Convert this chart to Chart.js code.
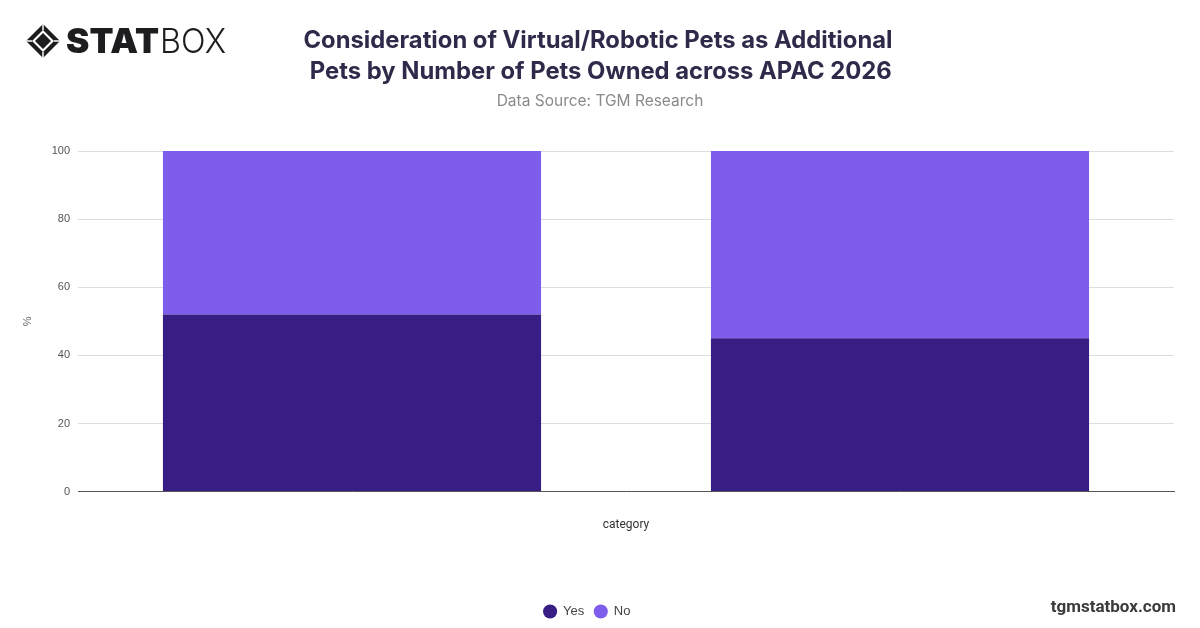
<!DOCTYPE html>
<html>
<head>
<meta charset="utf-8">
<script src="https://cdn.jsdelivr.net/npm/chart.js@4.4.1/dist/chart.umd.min.js"></script>
<style>
  html, body { margin: 0; padding: 0; background: #ffffff; }
  #wrap { position: relative; width: 1200px; height: 628px; overflow: hidden; background: #fff; }
  #chart { position: absolute; left: 0; top: 0; }
  #logo { position: absolute; left: 24px; top: 22px; }
  .title { position: absolute; left: 0; width: 1200px; text-align: center; font-family: Inter, "Noto Sans", sans-serif; }
  #t1 { top: 24px; font-size: 23.8px; font-weight: 700; color: #2e2b4a; line-height: 31px; left: -2px; }
  #sub { top: 91px; font-size: 15.5px; color: #8a8a8a; font-weight: 400; }
  #site { position: absolute; right: 24px; top: 596px; font-family: Roboto, "Liberation Sans", sans-serif; font-weight: 700; font-size: 17px; color: #3a3a3a; }
</style>
</head>
<body>
<div id="wrap">
  <canvas id="chart" width="1200" height="628"></canvas>
  <svg id="logo" width="210" height="40" viewBox="0 0 210 40">
    <polygon points="19,2 36,19 19,36 2,19" fill="#1d1d1f"/>
    <polygon points="19,8 30,19 19,30 8,19" fill="#ffffff"/>
    <polygon points="19,11 27,19 19,27 11,19" fill="#1d1d1f"/>
    <line x1="19" y1="2" x2="19" y2="8" stroke="#fff" stroke-width="1.5"/>
    <line x1="2" y1="19" x2="8" y2="19" stroke="#fff" stroke-width="1.5"/>
    <line x1="36" y1="19" x2="30" y2="19" stroke="#fff" stroke-width="1.5"/>
    <line x1="19" y1="36" x2="19" y2="30" stroke="#fff" stroke-width="1.5"/>
    <text x="42" y="31" font-family="Inter, 'DejaVu Sans', sans-serif" font-weight="900" font-size="34" fill="#1d1d1f" textLength="93" lengthAdjust="spacingAndGlyphs">STAT</text>
    <text x="136" y="31" font-family="Inter, 'DejaVu Sans', sans-serif" font-weight="300" font-size="34" fill="#1d1d1f" textLength="66" lengthAdjust="spacingAndGlyphs">BOX</text>
  </svg>
  <div class="title" id="t1">Consideration of Virtual/Robotic Pets as Additional<br>&nbsp;Pets by Number of Pets Owned across APAC 2026</div>
  <div class="title" id="sub">Data Source: TGM Research</div>
  <div id="site">tgmstatbox.com</div>
</div>
<script>
// ---- data ----
const categories = ["", ""];
const seriesNames = ["Yes", "No"];
const yesValues = [52, 45];
const noValues = [48, 55];
const yTicks = [0, 20, 40, 60, 80, 100];

const colors = { Yes: "#371d84", No: "#7e5ded" };

new Chart(document.getElementById("chart"), {
  type: "bar",
  data: {
    labels: categories,
    datasets: [
      { label: seriesNames[0], data: yesValues, backgroundColor: colors.Yes, borderWidth: 0 },
      { label: seriesNames[1], data: noValues, backgroundColor: colors.No, borderWidth: 0 }
    ]
  },
  options: {
    responsive: false,
    animation: false,
    devicePixelRatio: 1,
    layout: { padding: { top: 151, left: 0, right: 26, bottom: 0 } },
    datasets: { bar: { categoryPercentage: 0.69, barPercentage: 1.0 } },
    plugins: {
      title: { display: false },
      tooltip: { enabled: false },
      legend: {
        position: "bottom",
        labels: {
          usePointStyle: true,
          pointStyle: "circle",
          boxHeight: 10,
          padding: 10,
          color: "#444444",
          font: { family: "'Liberation Sans', Arial, sans-serif", size: 13 }
        }
      }
    },
    scales: {
      x: {
        stacked: true,
        grid: { display: false, drawTicks: false },
        border: { display: true, color: "#555555", width: 1 },
        ticks: { display: false },
        title: {
          display: true,
          text: "category",
          color: "#333333",
          font: { family: "Roboto, 'Liberation Sans', sans-serif", size: 12 },
          padding: { top: 26, bottom: 63 }
        }
      },
      y: {
        stacked: true,
        min: 0,
        max: 100,
        afterFit: (s) => { s.width = 78; },
        afterBuildTicks: (s) => { s.ticks = yTicks.map(v => ({ value: v })); },
        grid: { color: "#dddddd", drawTicks: false, lineWidth: 1 },
        border: { display: false },
        ticks: {
          padding: 8,
          color: "#555555",
          font: { family: "'Liberation Sans', Arial, sans-serif", size: 11 }
        },
        title: {
          display: true,
          text: "%",
          color: "#666666",
          font: { family: "'Liberation Sans', Arial, sans-serif", size: 11 },
          padding: { top: 21 }
        }
      }
    }
  }
});
</script>
</body>
</html>
